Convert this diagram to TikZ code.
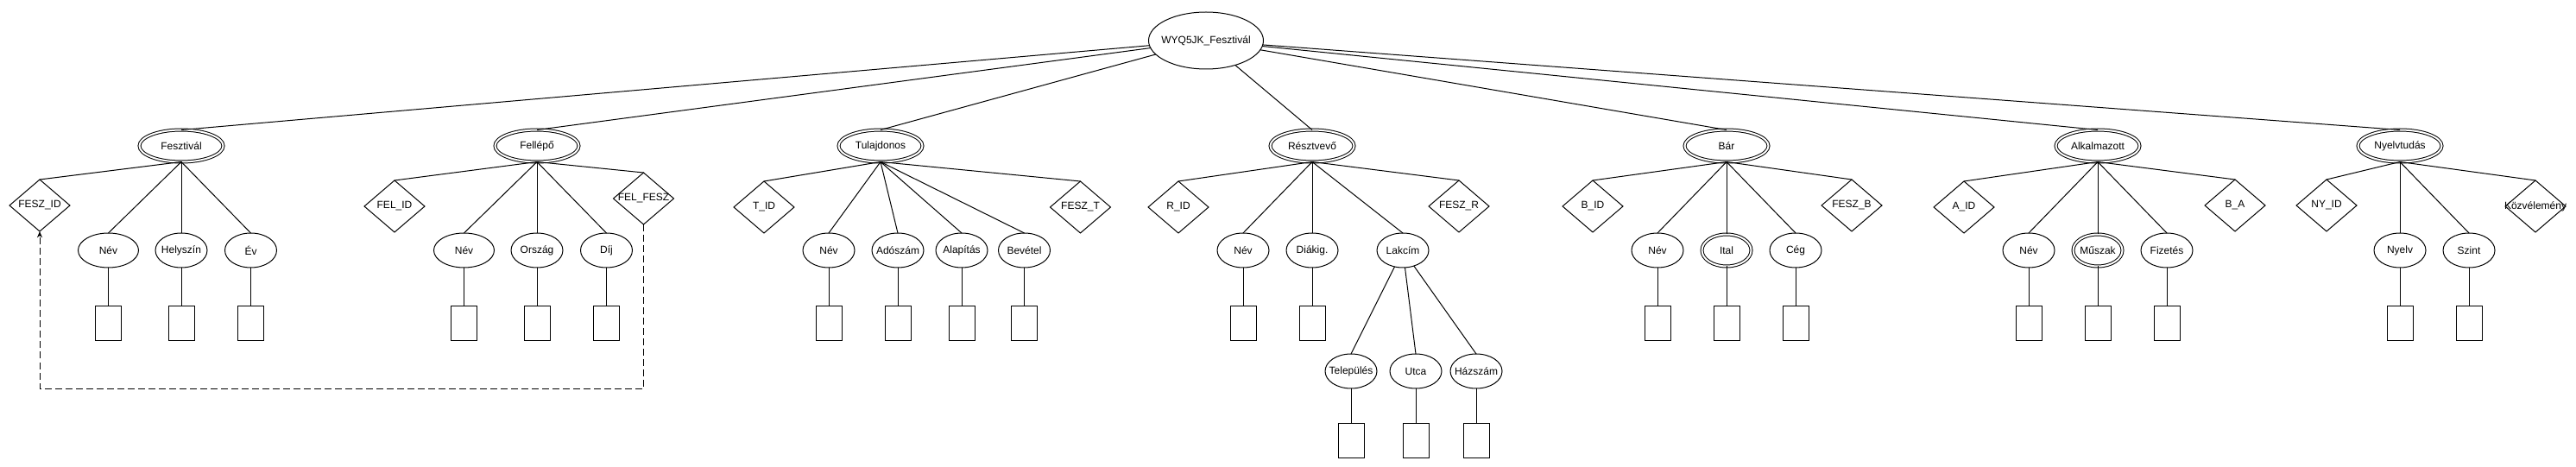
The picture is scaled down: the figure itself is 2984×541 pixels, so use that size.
\documentclass[tikz,border=0pt]{standalone}
\usepackage{fontspec}
\setmainfont{Liberation Sans}
\usetikzlibrary{shapes.geometric,arrows.meta}

\begin{document}
\begin{tikzpicture}
[x=0.75pt, y=-0.75pt, line width=0.75pt,
entity/.style={ellipse, draw, double, double distance=1.5pt, minimum width=72.75pt, minimum height=27.75pt},
multiattr/.style={ellipse, draw, double, double distance=1.5pt, minimum width=42.75pt, minimum height=27.75pt},
attr/.style={ellipse, draw, minimum width=45pt, minimum height=30pt},
wideattr/.style={attr, minimum width=52.5pt},
keyattr/.style={diamond, draw, minimum width=52.5pt, minimum height=45pt},
valbox/.style={rectangle, draw, minimum width=22.5pt, minimum height=30pt},
fk/.style={dash pattern=on 6pt off 3pt, -{Stealth[length=5.5pt, width=4.5pt]}}
]
\tikzset{every node/.style={inner sep=0pt, outer sep=0pt, font=\fontsize{9pt}{10pt}\selectfont}}
\tikzset{every label/.style={inner sep=0pt, font=\fontsize{9pt}{10pt}\selectfont}}
\useasboundingbox (0,0) rectangle (2984,541);

\node[ellipse, draw, minimum width=99.75pt, minimum height=49.5pt, label=center:WYQ5JK\_Fesztivál] (root) at (1397,47) {};

% entities
\node[entity, label=center:Fesztivál] (fesz) at (210,169) {};
\node[entity, label=center:Fellépő] (fel) at (622,169) {};
\node[entity, label=center:Tulajdonos] (tul) at (1020,169) {};
\node[entity, label=center:Résztvevő] (resz) at (1520,169) {};
\node[entity, label=center:Bár] (bar) at (2000,169) {};
\node[entity, label=center:Alkalmazott] (alk) at (2430,169) {};
\node[entity, label=center:Nyelvtudás] (nyt) at (2780,169) {};

\foreach \e in {fesz,fel,tul,resz,bar,alk,nyt}
    \draw (root) -- (\e.north);

% Fesztivál
\node[keyattr, label=center:FESZ\_ID] (feszid) at (46,238) {};
\node[wideattr, label=center:Név] (fnev) at (125.5,290) {};
\node[attr, label=center:Helyszín] (fhely) at (210,290) {};
\node[attr, label=center:Év] (fev) at (290.5,290) {};

% Fellépő
\node[keyattr, label=center:FEL\_ID] (felid) at (457,239) {};
\node[wideattr, label=center:Név] (felnev) at (537.5,290) {};
\node[attr, label=center:Ország] (felorsz) at (622,290) {};
\node[attr, label=center:Díj] (feldij) at (702.5,290) {};
\node[keyattr, label=center:FEL\_FESZ] (felfesz) at (745.5,230) {};

% Tulajdonos
\node[keyattr, label=center:T\_ID] (tid) at (885,240) {};
\node[attr, label=center:Név] (tnev) at (960,290) {};
\node[attr, label=center:Adószám] (tado) at (1040,290) {};
\node[attr, label=center:Alapítás] (talap) at (1114,290) {};
\node[attr, label=center:Bevétel] (tbev) at (1186.5,290) {};
\node[keyattr, label=center:FESZ\_T] (tfesz) at (1251.5,240) {};

% Résztvevő
\node[keyattr, label=center:R\_ID] (rid) at (1365,240) {};
\node[attr, label=center:Név] (rnev) at (1440,290) {};
\node[attr, label=center:Diákig.] (rdiak) at (1520,290) {};
\node[attr, label=center:Lakcím] (rlak) at (1625,290) {};
\node[keyattr, label=center:FESZ\_R] (rfesz) at (1690,239) {};
\node[attr, label=center:Település] (rtel) at (1565,430) {};
\node[attr, label=center:Utca] (rutca) at (1640,430) {};
\node[attr, label=center:Házszám] (rhaz) at (1710,430) {};

% Bár
\node[keyattr, label=center:B\_ID] (bid) at (1845,239) {};
\node[attr, label=center:Név] (bnev) at (1920,290) {};
\node[multiattr, label=center:Ital] (bital) at (2000,290) {};
\node[attr, label=center:Cég] (bceg) at (2080,290) {};
\node[keyattr, label=center:FESZ\_B] (bfesz) at (2145,238) {};

% Alkalmazott
\node[keyattr, label=center:A\_ID] (aid) at (2275,240) {};
\node[attr, label=center:Név] (anev) at (2350,290) {};
\node[multiattr, label=center:Műszak] (amusz) at (2430,290) {};
\node[attr, label=center:Fizetés] (afiz) at (2510,290) {};
\node[keyattr, label=center:B\_A] (aba) at (2589,238) {};

% Nyelvtudás
\node[keyattr, label=center:NY\_ID] (nyid) at (2695,238) {};
\node[attr, label=center:Nyelv] (nynyelv) at (2780,290) {};
\node[attr, label=center:Szint] (nyszint) at (2860,290) {};
\node[keyattr, label=center:Közvélemény] (nykoz) at (2937,239) {};

% entity -- attribute
\foreach \e/\a in {fesz/feszid,fesz/fnev,fesz/fhely,fesz/fev,
                   fel/felid,fel/felnev,fel/felorsz,fel/feldij,fel/felfesz,
                   tul/tid,tul/tnev,tul/tado,tul/talap,tul/tbev,tul/tfesz,
                   resz/rid,resz/rnev,resz/rdiak,resz/rlak,resz/rfesz,
                   bar/bid,bar/bnev,bar/bital,bar/bceg,bar/bfesz,
                   alk/aid,alk/anev,alk/amusz,alk/afiz,alk/aba,
                   nyt/nyid,nyt/nynyelv,nyt/nyszint,nyt/nykoz}
    \draw (\e.south) -- (\a.north);

\foreach \s in {rtel,rutca,rhaz}
    \draw (rlak) -- (\s.north);

% value boxes
\foreach \a/\y in {fnev/375,fhely/375,fev/375,felnev/375,felorsz/375,feldij/375,
                   tnev/375,tado/375,talap/375,tbev/375,rnev/375,rdiak/375,
                   rtel/510,rutca/510,rhaz/510,bnev/375,bital/375,bceg/375,
                   anev/375,amusz/375,afiz/375,nynyelv/375,nyszint/375}
{
    \node[valbox] (\a box) at (\a |- 0,\y) {};
    \draw (\a.south) -- (\a box.north);
}

% foreign key
\coordinate (fkturn) at (745.5,450);
\draw[fk] (felfesz.south) -- (fkturn) -| (feszid.south);
\end{tikzpicture}
\end{document}
